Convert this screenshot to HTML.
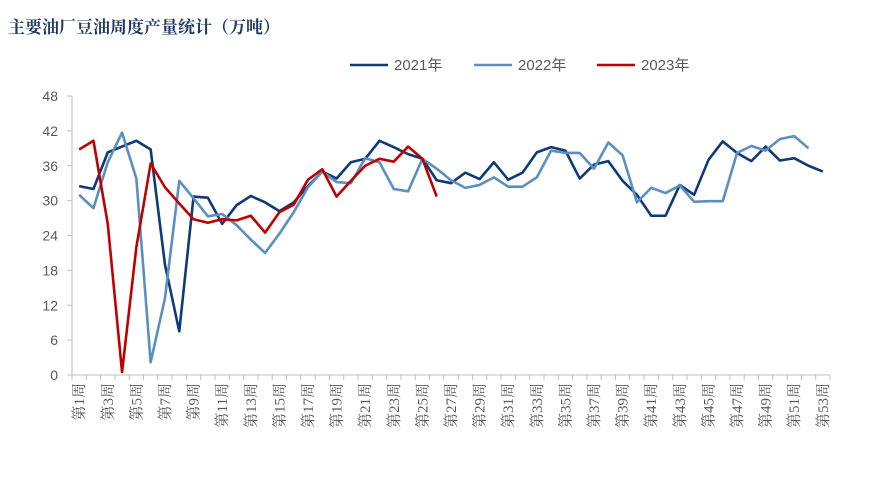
<!DOCTYPE html>
<html><head><meta charset="utf-8"><style>
body{margin:0;background:#fff;width:886px;height:473px;overflow:hidden;font-family:"Liberation Sans","Noto Sans CJK SC",sans-serif}
</style></head><body>
<svg id="c" width="886" height="473">
<text x="8" y="33" font-size="17" font-weight="bold" fill="#1f3864" font-family="'Liberation Serif','Noto Serif CJK SC',serif">主要油厂豆油周度产量统计（万吨）</text>
<g id="legend"></g>
<g id="axes"></g><g id="series"></g>
</svg>
<script>
const weeks=[];for(let i=1;i<=53;i++)weeks.push('第'+i+'周');
const yTicks=[0,6,12,18,24,30,36,42,48];
const s2021=[32.5,32,38.3,39.3,40.3,38.8,19,7.5,30.7,30.5,26,29.2,30.8,29.7,28.2,29.7,32.5,35,33.8,36.6,37.2,40.3,39.2,38,37.2,33.5,33,34.8,33.7,36.6,33.6,34.8,38.3,39.2,38.6,33.8,36.2,36.8,33.4,31,27.4,27.4,32.7,31,37,40.2,38.2,36.8,39.3,36.9,37.3,36,35];
const s2022=[31,28.7,36.6,41.7,33.8,2.2,13.2,33.4,30.4,27.3,27.7,25.8,23.3,21,24.3,28,32.3,35,33.2,33,37.3,36.6,32,31.6,37.2,35.5,33.5,32.2,32.7,34,32.4,32.4,34,38.6,38.2,38.2,35.5,40,37.8,29.7,32.2,31.3,32.6,29.8,29.9,29.9,38.2,39.4,38.6,40.6,41.1,39];
const s2023=[38.8,40.3,26,0.5,22,36.4,32.3,29.5,26.8,26.2,26.8,26.6,27.4,24.5,28,29.3,33.6,35.4,30.7,33.4,36,37.2,36.7,39.3,37.2,30.7];
const seriesNames=['2021年','2022年','2023年'];
const colors=['#0e3a7a','#5b8fc0','#c00000'];
const NS='http://www.w3.org/2000/svg';
const X0=72,X1=830,Y0=375,Y1=96;
const step=(X1-X0)/53;
const xs=i=>X0+step*(i+0.5);
const ys=v=>Y0-(v/48)*(Y0-Y1);
function mk(t,a,p){const e=document.createElementNS(NS,t);for(const k in a)e.setAttribute(k,a[k]);p.appendChild(e);return e;}
const ax=document.getElementById('axes');
const yl=mk('line',{x1:X0,y1:Y1,x2:X0,y2:Y0,stroke:'#bfbfbf'},ax);


yTicks.forEach(v=>{
 mk('line',{x1:X0-5,y1:ys(v),x2:X0,y2:ys(v),stroke:'#bfbfbf'},ax);
 const t=mk('text',{x:X0-14,y:ys(v)+5,'text-anchor':'end','font-size':14,fill:'#595959'},ax);
 t.textContent=v;
 
 
});
const xl=mk('line',{x1:X0,y1:Y0,x2:X1,y2:Y0,stroke:'#bfbfbf'},ax);


for(let i=0;i<=53;i++){mk('line',{x1:X0+step*i,y1:Y0,x2:X0+step*i,y2:Y0+5,stroke:'#bfbfbf'},ax);}
weeks.forEach((w,i)=>{if(i%2)return;const x=xs(i)+5;
 const t=mk('text',{x:x,y:Y0+8,'text-anchor':'end','font-size':15,fill:'#595959','font-family':"'Liberation Serif','Noto Serif CJK SC',serif",transform:`rotate(-90 ${x} ${Y0+8})`},ax);
 t.textContent=w;
 
 
});
const sg=document.getElementById('series');
[s2021,s2022,s2023].forEach((s,k)=>{
 const p=mk('polyline',{points:s.map((v,i)=>xs(i)+','+ys(v)).join(' '),fill:'none',stroke:colors[k],'stroke-width':2.6,'stroke-linejoin':'round'},sg);
 
 
});
const lg=document.getElementById('legend');
const lx=[350,474,597];
seriesNames.forEach((n,k)=>{
 mk('line',{x1:lx[k],y1:65,x2:lx[k]+38,y2:65,stroke:colors[k],'stroke-width':2.6},lg);
 const t=mk('text',{x:lx[k]+44,y:70,'font-size':15,fill:'#595959'},lg);
 t.textContent=n;
 
 
});
</script>
</body></html>
